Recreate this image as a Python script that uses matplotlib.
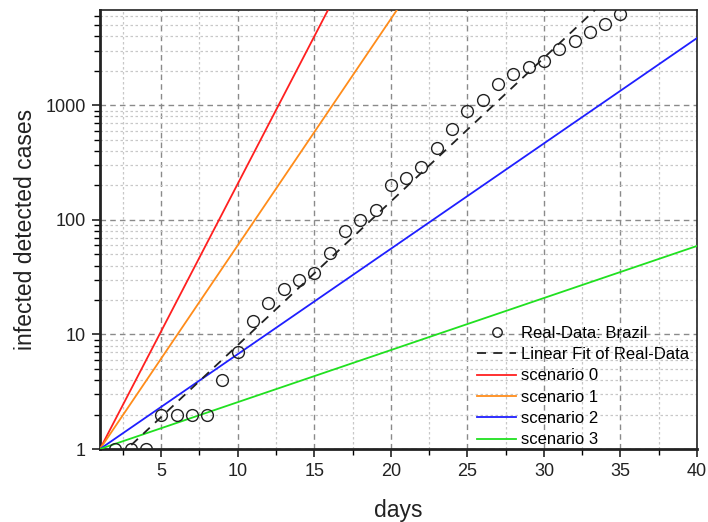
import numpy as np
import matplotlib
matplotlib.use("Agg")
import matplotlib.pyplot as plt
from matplotlib.ticker import FixedLocator, LogLocator, NullFormatter, FixedFormatter

plt.rcParams['font.family'] = ['Liberation Sans', 'DejaVu Sans']

# Real data
days = list(range(2, 36))
cases = [1, 1, 1, 2, 2, 2, 2, 4, 7, 13, 19, 25, 30, 34.6, 51, 80, 100, 122, 202,
         233, 290, 425, 624, 900, 1120, 1550, 1880, 2170, 2450, 3100, 3640, 4360, 5130, 6300]

# Linear fit of log10(cases): log10(y) = fit_a + fit_b * day
fit_a = -0.347
fit_b = 0.1254

# Scenario growth rates (log10 per day), all starting at (1, 1)
scenario_names = ['scenario 0', 'scenario 1', 'scenario 2', 'scenario 3']
scenario_rates = [0.2573, 0.1976, 0.0920, 0.04546]
scenario_colors = ['#ff2020', '#ff8c1a', '#1f1fff', '#20e020']

x_ticks = [5, 10, 15, 20, 25, 30, 35, 40]
y_ticks = [1, 10, 100, 1000]
y_labels = ['1', '10', '100', '1000']

fig = plt.figure(figsize=(7.08, 5.22), dpi=100)
ax = fig.add_axes([0.1412, 0.1398, 0.8433, 0.8410])

ax.set_yscale('log')
ax.set_xlim(1, 40)
ax.set_ylim(1, 6800)

xs = np.linspace(1, 40, 400)

ax.plot(days, cases, linestyle='none', marker='o', markersize=8.5,
        markerfacecolor='none', markeredgecolor='#222222', markeredgewidth=1.0,
        label='Real-Data: Brazil', zorder=5)
xf = np.linspace(1.5, 36, 200)
ax.plot(xf, 10 ** (fit_a + fit_b * xf), color='#222222', linestyle=(0, (5, 4)),
        linewidth=1.3, label='Linear Fit of Real-Data', zorder=4)
for name, r, c in zip(scenario_names, scenario_rates, scenario_colors):
    ax.plot(xs, 10 ** (r * (xs - 1)), color=c, linewidth=1.3, label=name, zorder=3)

ax.xaxis.set_major_locator(FixedLocator(x_ticks))
ax.xaxis.set_minor_locator(FixedLocator(list(np.arange(2.5, 40, 5))))
ax.yaxis.set_major_locator(FixedLocator(y_ticks))
ax.yaxis.set_major_formatter(FixedFormatter(y_labels))
ax.yaxis.set_minor_locator(LogLocator(base=10, subs=np.arange(2, 10), numticks=20))
ax.yaxis.set_minor_formatter(NullFormatter())

ax.grid(True, which='major', color='#8a8a8a', linestyle=(0, (4, 3)), linewidth=1.0)
ax.grid(True, which='minor', color='#c8c8c8', linestyle=(0, (2, 2)), linewidth=0.9)
ax.set_axisbelow(True)

ax.tick_params(axis='both', which='major', direction='out', length=6, width=1.2,
               labelsize=13, colors='#222222', pad=4)
ax.tick_params(axis='both', which='minor', direction='out', length=4, width=1.0)

for s in ['left', 'bottom']:
    ax.spines[s].set_linewidth(2.0)
for s in ['top', 'right']:
    ax.spines[s].set_linewidth(1.2)
for s in ax.spines.values():
    s.set_color('#222222')

ax.set_xlabel('days', fontsize=16.5, color='#222222', labelpad=14)
ax.set_ylabel('infected detected cases', fontsize=16.5, color='#222222', labelpad=6)

leg = ax.legend(loc='lower right', bbox_to_anchor=(0.99, 0.0), frameon=False,
                fontsize=12, handlelength=2.35, handletextpad=0.3,
                labelspacing=0.38, borderaxespad=0.0, borderpad=0.1,
                markerscale=0.8)

fig.savefig('out.png', dpi=100)
